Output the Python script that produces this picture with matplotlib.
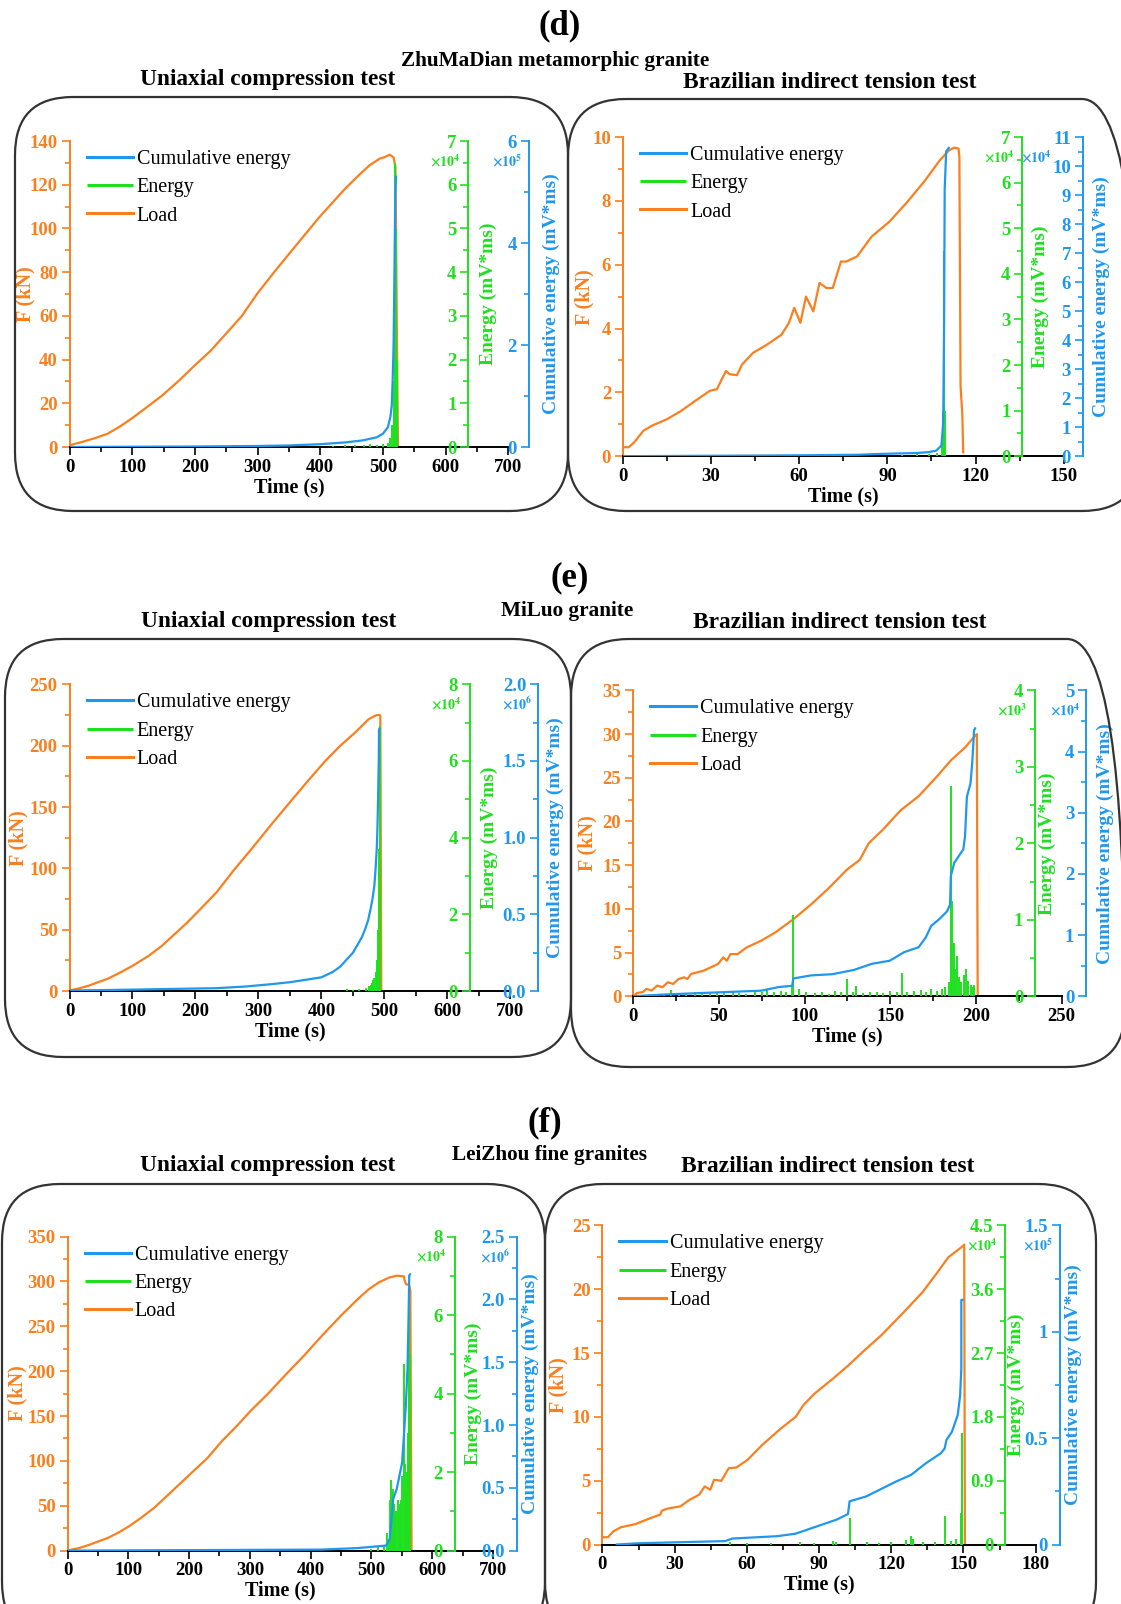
import matplotlib
matplotlib.use('Agg')
import matplotlib.pyplot as plt
from matplotlib.patches import FancyBboxPatch
from matplotlib.transforms import IdentityTransform
from matplotlib.ticker import MultipleLocator, FormatStrFormatter

# Times-like fonts everywhere
plt.rcParams['font.family'] = ['Liberation Serif', 'DejaVu Serif']
plt.rcParams['mathtext.fontset'] = 'stix'
plt.rcParams['font.weight'] = 'bold'
plt.rcParams['axes.labelweight'] = 'bold'

W, H = 1121, 1604
ORANGE = '#FA7F1E'
GREEN = '#1FE01F'
BLUE = '#1E98EE'

# ---------------- (d) ZhuMaDian metamorphic granite ----------------
# uniaxial compression
d1_load_t = [0, 20, 40, 61, 80, 99, 120, 148, 175, 200, 225, 247, 275, 299, 325, 352, 375, 398,
             420, 439, 460, 479, 495, 503, 511, 517, 520, 522, 524]
d1_load_f = [0.8, 2.3, 4.0, 6.1, 9.3, 13, 17.5, 23.6, 30.5, 37.4, 44, 51, 60, 70, 79.5, 89, 97, 105,
             112, 118, 124, 129, 132, 132.7, 133.8, 132.5, 128, 60, 0]
d1_cum_t = [0, 100, 200, 300, 350, 400, 440, 468, 490, 500, 508, 512, 514, 515.5, 517, 518, 519, 520, 521]
d1_cum_v = [0, 0.005, 0.01, 0.02, 0.03, 0.055, 0.09, 0.13, 0.19, 0.26, 0.39, 0.6, 0.8, 1.3, 2.0, 3.0, 4.2, 5.1, 5.3]
d1_en_t = [420, 440, 455, 470, 480, 490, 500, 508, 512, 515, 517, 518, 519, 520, 521, 522, 523]
d1_en_v = [0.03, 0.04, 0.05, 0.05, 0.06, 0.05, 0.08, 0.1, 0.2, 0.5, 0.9, 1.5, 3.0, 6.5, 5.0, 2.0, 0.5]

# Brazilian indirect tension
d2_load_t = [0, 2, 3.9, 7, 10, 15, 19.8, 24.7, 29.6, 32, 33.9, 35.1, 36.3, 38.8, 40.6, 44.3, 49.1, 54,
             56.5, 58.3, 60.4, 62.3, 64.8, 66.9, 69.3, 71.4, 74.2, 76, 79.7, 84.6, 90.7, 96.8, 102.9,
             107.8, 110.9, 112.7, 114.2, 114.5, 114.9, 115.5, 115.8]
d2_load_f = [0.28, 0.28, 0.44, 0.8, 0.96, 1.16, 1.42, 1.74, 2.05, 2.1, 2.46, 2.67, 2.57, 2.54, 2.88, 3.24,
             3.5, 3.81, 4.18, 4.65, 4.18, 5.0, 4.54, 5.43, 5.27, 5.27, 6.1, 6.1, 6.26, 6.88, 7.35, 7.97,
             8.65, 9.27, 9.58, 9.67, 9.64, 9.38, 2.2, 1.32, 0.12]
d2_cum_t = [0, 20, 40, 60, 80, 88, 100, 104, 106.6, 108.4, 109, 109.3, 109.5, 110, 110.9]
d2_cum_v = [0, 0.01, 0.02, 0.03, 0.05, 0.08, 0.11, 0.14, 0.19, 0.37, 1.17, 4.6, 9.2, 10.5, 10.63]
d2_en_t = [95, 100, 104, 107, 108.5, 109.0, 109.4, 109.7]
d2_en_v = [0.03, 0.05, 0.04, 0.08, 0.3, 1.0, 4.5, 1.0]

# ---------------- (e) MiLuo granite ----------------
e1_load_t = [0, 15, 31.7, 45, 60.5, 80, 100.8, 125, 146.9, 165, 187.2, 210, 233.3, 260, 290.9, 320,
             348.5, 378, 406, 430, 452, 465, 475, 486.8, 492.5, 493.5, 495]
e1_load_f = [0.5, 2.2, 4.6, 7.2, 10, 15, 20.8, 28.5, 37, 45.5, 56, 68, 80.4, 98, 117, 135.5, 153, 171,
             187.5, 200, 210, 216.5, 221.6, 224.8, 225, 224, 0]
e1_cum_t = [0, 60, 118, 175, 233, 280, 320, 350, 377, 400, 418, 430, 441, 450, 458, 464, 469.5, 474,
            478, 481, 484, 486, 488, 489, 490, 491, 491.4, 492]
e1_cum_v = [0.004, 0.007, 0.011, 0.015, 0.019, 0.03, 0.045, 0.058, 0.075, 0.09, 0.125, 0.16, 0.21,
            0.25, 0.307, 0.35, 0.405, 0.46, 0.535, 0.6, 0.686, 0.8, 0.946, 1.08, 1.27, 1.5, 1.70, 1.71]
e1_en_t = [440, 450, 460, 470, 475, 478, 480, 482, 484, 486, 488, 489, 490, 491, 492.5]
e1_en_v = [0.05, 0.04, 0.06, 0.08, 0.12, 0.15, 0.2, 0.3, 0.35, 0.5, 0.8, 1.0, 1.6, 3.7, 6.9]

e2_load_t = [0, 2.5, 5.6, 7.7, 10.9, 14, 17.1, 20.3, 23.4, 26.5, 29.7, 31.7, 33.8, 41.1, 49.5, 52.6, 54.7,
             56.8, 61, 66.2, 74.6, 82.9, 93.4, 103.8, 114.3, 124.8, 132.2, 137.4, 145.7, 151, 156.2,
             166.6, 177, 185.4, 193.8, 199, 200.5, 201]
e2_load_f = [0, 0.38, 0.46, 0.84, 0.65, 1.21, 1.03, 1.6, 1.4, 1.97, 2.16, 1.97, 2.54, 2.92, 3.68, 4.44,
             4.06, 4.82, 4.82, 5.58, 6.34, 7.29, 8.8, 10.5, 12.4, 14.5, 15.6, 17.5, 19.06, 20.2, 21.3,
             22.9, 25.1, 27, 28.5, 29.7, 30.0, 0]
e2_cum_t = [0, 20, 51.6, 74.6, 85, 92.8, 93.4, 103.8, 116.3, 128.9, 139.3, 149.7, 158.1, 166.5, 170.7,
            173.9, 179, 183.2, 184.9, 185.3, 187.3, 192.6, 193.6, 194.7, 196.8, 197.8, 198.9, 199.5]
e2_cum_v = [0, 0.03, 0.065, 0.09, 0.15, 0.17, 0.29, 0.34, 0.36, 0.43, 0.53, 0.58, 0.72, 0.80, 0.96,
            1.15, 1.27, 1.39, 1.50, 1.96, 2.18, 2.40, 2.61, 3.26, 3.48, 3.81, 4.35, 4.38]
e2_en_t = [18, 22, 27, 31, 36, 40, 45, 49, 53, 58, 62, 66, 71, 75, 78, 82, 86, 89, 92.5, 93.2, 97, 101,
           106, 110, 114, 118, 121, 125, 128, 130, 134, 138, 142, 146, 150, 154, 157, 160, 164, 168,
           171, 174, 177, 180, 182, 184, 185.6, 186.3, 187, 188, 188.8, 190, 191.5, 193, 194.2, 195.5,
           197, 198, 199]
e2_en_v = [0.03, 0.08, 0.02, 0.04, 0.05, 0.03, 0.06, 0.04, 0.05, 0.07, 0.04, 0.03, 0.05, 0.06, 0.08,
           0.05, 0.07, 0.06, 0.12, 1.06, 0.09, 0.05, 0.04, 0.06, 0.03, 0.07, 0.05, 0.23, 0.06, 0.13,
           0.04, 0.05, 0.06, 0.04, 0.07, 0.06, 0.31, 0.05, 0.07, 0.08, 0.06, 0.09, 0.07, 0.10, 0.12,
           0.18, 2.75, 1.25, 0.7, 0.35, 0.53, 0.25, 0.18, 0.28, 0.35, 0.2, 0.15, 0.12, 0.15]

# ---------------- (f) LeiZhou fine granites ----------------
f1_load_t = [0, 20, 37, 50, 66.3, 85, 101.5, 120, 142.6, 170, 201.3, 230, 254, 280, 301, 330, 359.7, 390,
             418.4, 450, 477, 495, 512.3, 529.9, 541.6, 553.4, 555, 557, 562, 564, 566]
f1_load_f = [0, 3, 6.7, 10, 14.1, 20.5, 27.2, 36, 47.7, 65, 84.9, 103, 122, 140, 155.6, 175, 196.6, 218,
             239.4, 262, 280, 291, 299, 304.5, 306.4, 305.7, 300, 297, 296, 290, 0]
f1_cum_t = [0, 418, 477, 524, 530, 533, 535.8, 541.6, 550.5, 556.3, 559.3, 561, 562.2, 563.5]
f1_cum_v = [0, 0.008, 0.02, 0.04, 0.09, 0.25, 0.41, 0.49, 0.70, 1.13, 1.44, 1.84, 2.19, 2.2]
f1_en_t = [500, 510, 520, 526, 529, 531, 532.8, 534, 535.8, 537, 539, 541, 543, 545, 547, 549, 551,
           553.4, 555, 557, 558, 559.5, 561, 562.2, 563, 564]
f1_en_v = [0.05, 0.08, 0.15, 0.45, 0.3, 1.3, 1.81, 1.5, 1.56, 1.2, 0.9, 1.0, 1.3, 0.9, 1.2, 1.3, 1.9,
           4.75, 2.2, 1.5, 2.0, 3.0, 4.6, 6.58, 5.0, 1.0]

f2_load_t = [0, 2.3, 4.6, 7.7, 13.9, 20.1, 24, 24.7, 27, 32.4, 36.3, 40.2, 42.5, 44.8, 46.4, 49.4, 52.5,
             55.6, 60.3, 66.4, 74.2, 80.3, 83.4, 88, 95.8, 102, 108.2, 115.9, 125.2, 132.9, 139.1,
             143.7, 149.9, 150.3, 150.6]
f2_load_f = [0.57, 0.57, 1.04, 1.35, 1.61, 2.08, 2.34, 2.65, 2.81, 2.99, 3.51, 3.9, 4.55, 4.29, 5.07,
             4.99, 5.98, 6.03, 6.63, 7.8, 9.1, 10, 10.9, 11.8, 13, 14, 15.1, 16.4, 18.2, 19.75, 21.3,
             22.5, 23.4, 23.5, 0]
f2_cum_t = [6, 15.5, 51, 54, 72.6, 80.3, 88, 97.3, 102, 102.7, 109.6, 122, 128.2, 134.4, 140.6, 142.2,
            142.9, 145.2, 147.6, 148.6, 149.1, 149.1, 149.6]
f2_cum_v = [0, 0.006, 0.016, 0.028, 0.039, 0.051, 0.081, 0.117, 0.143, 0.203, 0.226, 0.296, 0.327,
            0.382, 0.429, 0.452, 0.491, 0.53, 0.608, 0.70, 0.826, 1.15, 1.15]
f2_en_t = [53, 60, 70, 82, 88, 96, 97, 102.7, 110, 115, 120, 126, 128.2, 129, 133, 138, 142.2, 145,
           147, 148.8, 149.4]
f2_en_v = [0.03, 0.02, 0.02, 0.03, 0.02, 0.05, 0.04, 0.37, 0.03, 0.02, 0.03, 0.06, 0.12, 0.08, 0.03,
           0.04, 0.40, 0.05, 0.08, 0.44, 1.57]

fig = plt.figure(figsize=(W / 100, H / 100), dpi=100)
fig.patch.set_facecolor('white')


def frame(x0, y0, x1, y1):
    # rounded panel outline, pixel coords measured from the top-left
    p = FancyBboxPatch((x0, H - y1), x1 - x0, y1 - y0,
                       boxstyle='round,pad=0,rounding_size=58',
                       transform=IdentityTransform(), facecolor='none',
                       edgecolor='#333333', linewidth=1.6)
    fig.add_artist(p)


def ftext(x, y, s, size):
    fig.text(x / W, 1 - y / H, s, ha='center', va='center', fontsize=size, fontweight='bold')


def style_yaxis(a, color, major, fmt):
    a.yaxis.set_major_locator(MultipleLocator(major))
    a.yaxis.set_minor_locator(MultipleLocator(major / 2))
    a.yaxis.set_major_formatter(FormatStrFormatter(fmt))
    a.tick_params(axis='y', which='both', colors=color, width=1.2, direction='out')
    a.tick_params(axis='y', which='major', length=6, labelsize=13.5, pad=2.5)
    a.tick_params(axis='y', which='minor', length=3.5)


def draw_panel(box, load, cum, en, xl, fl, el, cl, e_exp, c_exp, g_at, b_at,
               efmt='%g', cfmt='%g', f_lab=-44, e_lab=18, c_lab=18, c_exp_dx=6):
    left, right, bottom, top = box
    w, h = right - left, bottom - top
    ax = fig.add_axes([left / W, 1 - bottom / H, w / W, h / H])
    ax.patch.set_visible(False)
    ax.set_xlim(0, xl[0])
    ax.set_ylim(0, fl[0])
    hl, = ax.plot(load[0], load[1], color=ORANGE, lw=1.6)

    ax.spines[['top', 'right']].set_visible(False)
    ax.spines['left'].set_color(ORANGE)
    ax.spines['left'].set_linewidth(1.4)
    ax.spines['bottom'].set_linewidth(1.4)
    ax.xaxis.set_major_locator(MultipleLocator(xl[1]))
    ax.xaxis.set_minor_locator(MultipleLocator(xl[1] / 2))
    ax.tick_params(axis='x', which='both', colors='black', width=1.2, direction='out')
    ax.tick_params(axis='x', which='major', length=6, labelsize=13.5, pad=2.5)
    ax.tick_params(axis='x', which='minor', length=3.5)
    style_yaxis(ax, ORANGE, fl[1], '%g')
    ax.set_xlabel('Time (s)', fontsize=14.5, labelpad=1)
    ax.text(f_lab / w, 0.5, 'F (kN)', transform=ax.transAxes, rotation=90,
            ha='center', va='center', color=ORANGE, fontsize=14.5)

    g = (g_at - left) / w
    b = (b_at - left) / w

    # energy axis
    axe = ax.twinx()
    axe.set_ylim(0, el[0])
    he = axe.vlines(en[0], 0, en[1], colors=GREEN, lw=1.4)
    axe.spines[['top', 'right', 'bottom']].set_visible(False)
    axe.spines['left'].set_position(('axes', g))
    axe.spines['left'].set_color(GREEN)
    axe.spines['left'].set_linewidth(1.4)
    axe.yaxis.tick_left()
    style_yaxis(axe, GREEN, el[1], efmt)

    # cumulative energy axis
    axc = ax.twinx()
    axc.set_ylim(0, cl[0])
    hc, = axc.plot(cum[0], cum[1], color=BLUE, lw=1.6)
    axc.spines[['top', 'right', 'bottom']].set_visible(False)
    axc.spines['left'].set_position(('axes', b))
    axc.spines['left'].set_color(BLUE)
    axc.spines['left'].set_linewidth(1.4)
    axc.yaxis.tick_left()
    style_yaxis(axc, BLUE, cl[1], cfmt)

    ax.text(g + e_lab / w, 0.5, 'Energy (mV*ms)', transform=ax.transAxes, rotation=90,
            ha='center', va='center', color=GREEN, fontsize=14)
    ax.text(b + c_lab / w, 0.5, 'Cumulative energy (mV*ms)', transform=ax.transAxes, rotation=90,
            ha='center', va='center', color=BLUE, fontsize=14)
    ax.text(g - 8 / w, 1 - 20 / h, r'$\times10^{%d}$' % e_exp, transform=ax.transAxes,
            ha='right', va='center', color=GREEN, fontsize=10)
    ax.text(b - c_exp_dx / w, 1 - 20 / h, r'$\times10^{%d}$' % c_exp, transform=ax.transAxes,
            ha='right', va='center', color=BLUE, fontsize=10)

    leg = axc.legend([hc, he, hl], ['Cumulative energy', 'Energy', 'Load'],
                     loc='upper left', bbox_to_anchor=(17 / w, 1 - 9 / h), frameon=False,
                     prop={'size': 14.5, 'weight': 'normal'}, handlelength=2.3,
                     handletextpad=0.2, labelspacing=0.45, borderaxespad=0, borderpad=0)
    for line in leg.get_lines():
        line.set_linewidth(2.2)


# panel outlines
frame(15, 97, 568, 511)
frame(568, 99, 1140, 511)
frame(5, 639, 571, 1057)
frame(571, 639, 1125, 1067)
frame(2, 1184, 545, 1640)
frame(545, 1184, 1096, 1640)

# headings
ftext(560, 26, '(d)', 25)
ftext(555, 61, 'ZhuMaDian metamorphic granite', 15.3)
ftext(268, 80, 'Uniaxial compression test', 16.8)
ftext(830, 82, 'Brazilian indirect tension test', 16.8)
ftext(570, 578, '(e)', 25)
ftext(567, 611, 'MiLuo granite', 15.3)
ftext(269, 622, 'Uniaxial compression test', 16.8)
ftext(840, 622, 'Brazilian indirect tension test', 16.8)
ftext(545, 1123, '(f)', 25)
ftext(549, 1155, 'LeiZhou fine granites', 15.3)
ftext(268, 1166, 'Uniaxial compression test', 16.8)
ftext(828, 1166, 'Brazilian indirect tension test', 16.8)

draw_panel((69.5, 508.3, 447, 141.1), (d1_load_t, d1_load_f), (d1_cum_t, d1_cum_v), (d1_en_t, d1_en_v),
           (700, 100), (140, 20), (7, 1), (6, 2), 4, 5, 468.4, 528.8, f_lab=-44, e_lab=20, c_lab=23)
draw_panel((622.9, 1063.7, 456.2, 137.1), (d2_load_t, d2_load_f), (d2_cum_t, d2_cum_v), (d2_en_t, d2_en_v),
           (150, 30), (10, 2), (7, 1), (11, 1), 4, 4, 1022.4, 1082.8, f_lab=-38, e_lab=18, c_lab=19,
           c_exp_dx=31)
draw_panel((69.5, 510.4, 991.1, 684.3), (e1_load_t, e1_load_f), (e1_cum_t, e1_cum_v), (e1_en_t, e1_en_v),
           (700, 100), (250, 50), (8, 2), (2.0, 0.5), 4, 6, 469.5, 538, cfmt='%.1f',
           f_lab=-51, e_lab=20, c_lab=17)
draw_panel((633.1, 1061.7, 996.2, 690.4), (e2_load_t, e2_load_f), (e2_cum_t, e2_cum_v), (e2_en_t, e2_en_v),
           (250, 50), (35, 5), (4, 1), (5, 1), 3, 4, 1035, 1086, f_lab=-46, e_lab=12, c_lab=19)
draw_panel((67.5, 493, 1550.6, 1236.6), (f1_load_t, f1_load_f), (f1_cum_t, f1_cum_v), (f1_en_t, f1_en_v),
           (700, 100), (350, 50), (8, 2), (2.5, 0.5), 4, 6, 454.7, 516.5, cfmt='%.1f',
           f_lab=-50, e_lab=19, c_lab=14)
draw_panel((602.4, 1035.7, 1544.5, 1225.4), (f2_load_t, f2_load_f), (f2_cum_t, f2_cum_v), (f2_en_t, f2_en_v),
           (180, 30), (25, 5), (4.5, 0.9), (1.5, 0.5), 4, 5, 1005.4, 1059.7, f_lab=-44, e_lab=11, c_lab=14)

fig.savefig('out.png', dpi=100)
